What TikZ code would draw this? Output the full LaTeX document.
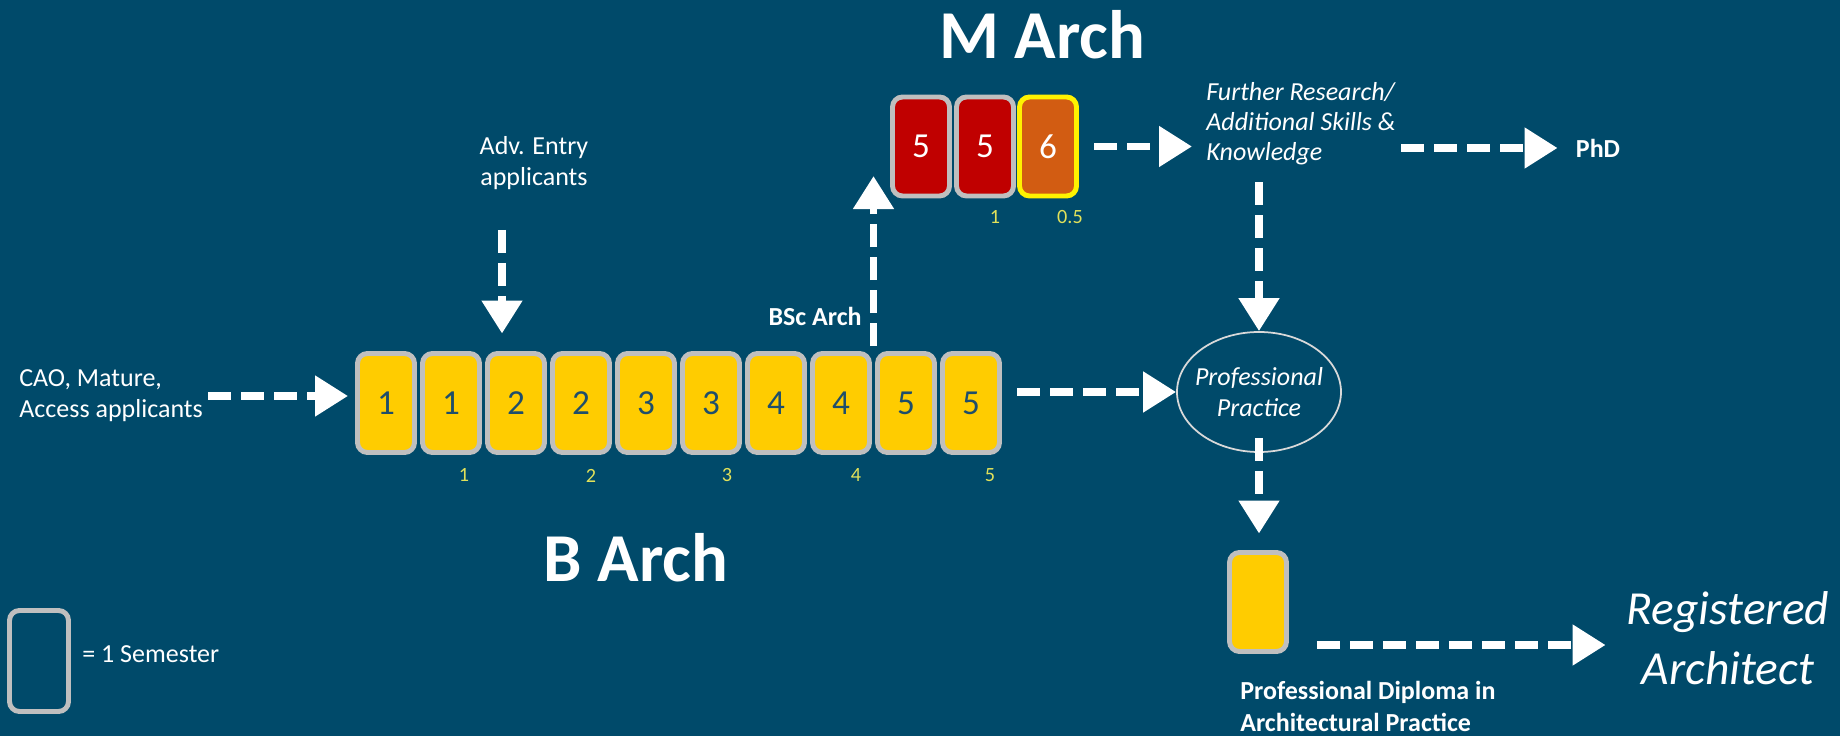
\documentclass[tikz,border=0pt]{standalone}
\usepackage{fontspec}
\setmainfont{Carlito}
\usepackage{xcolor}
\usetikzlibrary{arrows.meta,calc,shapes.geometric}
\definecolor{bgblue}{RGB}{0,74,106}
\definecolor{semgold}{RGB}{255,204,0}
\definecolor{semgray}{RGB}{191,191,191}
\definecolor{semred}{RGB}{192,0,0}
\definecolor{semorange}{RGB}{210,92,18}
\definecolor{numblue}{RGB}{31,78,107}
\definecolor{yrlabel}{RGB}{225,225,90}
\tikzset{
	sem/.style={draw=semgray, fill=semgold, line width=2.8pt, rounded corners=0.2cm,
			minimum width=1.14cm, minimum height=1.98cm, inner sep=0pt,
			text=numblue, font=\fontsize{20}{24}\selectfont},
	msem/.style={sem, fill=semred, text=white},
	flow/.style={draw=white, line width=4.5pt, dash pattern=on 0.46cm off 0.2cm,
			-{Triangle[length=0.66cm,width=0.78cm]}},
	lab/.style={text=white, inner sep=0.1cm, align=left, font=\fontsize{14.8}{17.6}\selectfont},
	ilab/.style={lab, font=\fontsize{14.8}{17.2}\selectfont\itshape},
	blab/.style={lab, font=\fontsize{14.8}{18.2}\selectfont\bfseries},
	yr/.style={text=yrlabel, inner sep=0pt, font=\fontsize{11.5}{13}\selectfont},
	ttl/.style={text=white, inner sep=0pt, font=\fontsize{39}{44}\selectfont\bfseries},
	regl/.style={text=white, inner sep=0.1cm, align=center, font=\fontsize{27}{34}\selectfont\itshape}
}

\begin{document}
\begin{tikzpicture}
		\fill[bgblue] (0,0) rectangle (36.8,14.72);
		\useasboundingbox (0,0) rectangle (36.8,14.72);

		\foreach \i/\v in {1/1,2/1,3/2,4/2,5/3,6/3,7/4,8/4,9/5,10/5}
			\node[sem] (b\i) at ({7.72+1.3*(\i-1)},6.66) {\v};
		\foreach \j/\k/\dx in {2/1/0.26,4/2/0.2,6/3/0.32,8/4/0.3,10/5/0.38}
			\node[yr] (y\k) at ($(b\j.south)+(\dx,-0.41)$) {\k};
		\node[ttl] (barch) at (12.72,3.56) {B Arch};

		\node[msem] (m1) at (18.42,11.79) {5};
		\node[msem] (m2) at (19.7,11.79) {5};
		\node[msem, draw=yellow, fill=semorange] (m3) at (20.96,11.79) {6};
		\node[yr] (my1) at (19.9,10.38) {1};
		\node[yr] (my2) at (21.4,10.38) {0.5};
		\node[ttl] (march) at (20.84,14.02) {M Arch};

		\node[lab, anchor=west] (cao) at (0.28,6.8) {CAO, Mature,\\Access applicants};
		\draw[flow, shorten >=0.14cm] (cao.east) -- (cao.east -| b1.west);

		\node[lab, align=center] (adv) at (10.68,11.46) {Adv. Entry\\applicants};
		\coordinate (advtop) at (10.04,10.12);
		\draw[flow, shorten >=0.35cm] (advtop) -- (advtop |- b3.north);

		\coordinate (bscfoot) at ($(b8.north east)!0.5!(b9.north west)$);
		\coordinate (bsctip) at ($(bscfoot)+(0,3.5)$);
		\draw[flow, shorten <=0.1cm] (bscfoot) -- (bsctip);
		\node[blab, anchor=east] (bsc) at ($(bscfoot)+(-0.13,0.69)$) {BSc Arch};

		\node[ilab, anchor=west] (fr) at (24.02,12.25) {Further Research/\\Additional Skills \&\\Knowledge};
		\draw[flow, shorten <=0.31cm, shorten >=0.18cm] (m3.east) -- (m3.east -| fr.west);
		\node[blab] (phd) at (31.96,11.76) {PhD};
		\draw[flow, shorten >=0.26cm] (fr.east |- phd.west) -- (phd.west);

		\node[ellipse, draw=semgray!60!white, line width=1pt, minimum width=3.28cm, minimum height=2.4cm,
			ilab, inner sep=-0.3cm, align=center] (pp) at (25.18,6.88) {Professional\\Practice};
		\draw[flow, shorten <=0.24cm] (pp.north |- fr.south) -- (pp.north);
		\draw[flow, shorten <=0.31cm] (pp.west -| b10.east) -- (pp.west);

		\node[sem] (dip) at (25.16,2.68) {};
		\draw[flow, shorten >=0.33cm] ([yshift=0.3cm]pp.south) -- (pp.south |- dip.north);
		\node[blab, anchor=west] (dipl) at (24.7,0.6) {Professional Diploma in\\Architectural Practice};

		\node[regl] (reg) at (34.56,1.96) {Registered\\Architect};
		\draw[flow, shorten <=0.56cm, shorten >=0.32cm] ([yshift=-0.14cm]reg.west -| dip.east) -- ([yshift=-0.14cm]reg.west);

		\node[sem, fill=none, minimum width=1.18cm, minimum height=2.02cm] (key) at (0.78,1.5) {};
		\node[lab, anchor=west] (keylab) at (1.54,1.64) {= 1 Semester};
	\end{tikzpicture}
\end{document}
